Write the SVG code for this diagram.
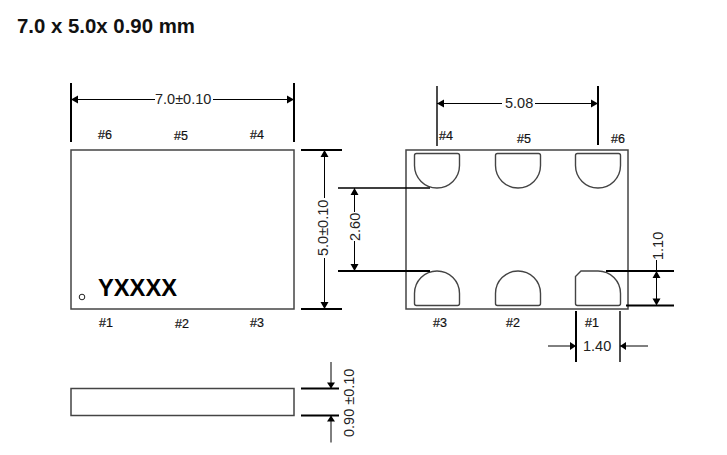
<svg xmlns="http://www.w3.org/2000/svg" width="727" height="455" viewBox="0 0 727 455">
<style>
text{font-family:"Liberation Sans",Arial,sans-serif;fill:#111}
.t{font-size:14.5px;fill:#222}
.p{font-size:12.500px;stroke:#111;stroke-width:.2}
.body{fill:#fff;stroke:#444;stroke-width:1.5}
.pad{fill:#fff;stroke:#444;stroke-width:1.4}
.l{stroke:#000;stroke-width:1;fill:none}
.m{stroke:#000;stroke-width:1.400;fill:none}
.h{stroke:#000;stroke-width:2;fill:none}
.a{fill:#000}
</style>
<defs>
<path id="pt" d="M414.500 155.500a2 2 0 0 1 2-2h41a2 2 0 0 1 2 2v10a22.500 22.500 0 0 1-45 0z"/>
<path id="pb" d="M414.500 303.500a2 2 0 0 0 2 2h41a2 2 0 0 0 2-2v-10a22.500 22.500 0 0 0-45 0z"/>
</defs>
<rect width="727" height="455" fill="#fff"/>
<text x="17" y="33" style="font-size:20.400px;font-weight:700">7.0 x 5.0x 0.90 mm</text>

<g id="top-view">
<rect class="body" x="71" y="150" width="223" height="159"/>
<circle cx="82" cy="297" r="2.800" fill="#fff" stroke="#222" stroke-width="1"/>
<text x="98" y="296" style="font-size:23.700px;font-weight:700;fill:#000">YXXXX</text>
<text class="p" x="98" y="139">#6</text><text class="p" x="174" y="140">#5</text><text class="p" x="250" y="139">#4</text>
<text class="p" x="99" y="327">#1</text><text class="p" x="175" y="328">#2</text><text class="p" x="250" y="327">#3</text>
</g>
<g id="side-view"><rect class="body" x="71" y="388.500" width="223" height="27"/></g>
<g id="bottom-view">
<rect class="body" x="406" y="150" width="222" height="159"/>
<use href="#pt" class="pad"/><use href="#pt" class="pad" x="81"/><use href="#pt" class="pad" x="161"/>
<use href="#pb" class="pad"/><use href="#pb" class="pad" x="81"/>
<path class="pad" d="M575.500 303.500a2 2 0 0 0 2 2h41a2 2 0 0 0 2-2v-10a22.500 22.500 0 0 0-22.500-22.500h-17l-5.500 5.500z"/>
<text class="p" x="439" y="140">#4</text><text class="p" x="517" y="143">#5</text><text class="p" x="611" y="143">#6</text>
<text class="p" x="433" y="327">#3</text><text class="p" x="506" y="327">#2</text><text class="p" x="585" y="327">#1</text>
</g>
<g id="connectors">
<path class="h" d="M71 83v59M294 83v59M598 86v59M576 311v51M301 150h41M301 309h41M338 271h92M606 271h68M626 305.500h48M301 388.500h38M301 415.500h38"/>
<path class="m" d="M437 86v60M620 311v51M338 188h92"/>
<path class="l" d="M71 99.500h84M213 99.500h81M437 103.500h65M535 103.500h63M324.500 150v48M324.500 258v51M354.500 188v24M354.500 241v30M656.500 271v34.500M656.500 271v-11M548 346h28M620 346h28M331 362v26M331 415.500v27"/>
<path class="a" d="M71 99.500l7-4v8zM294 99.500l-7-4v8zM437 103.500l7-4v8zM598 103.500l-7-4v8zM324.500 150l-4 7h8zM324.500 309l-4-7h8zM354.500 188l-4 7h8zM354.500 271l-4-7h8zM656.500 271l-4 7h8zM656.500 305.500l-4-7h8zM576 346l-6-4v8zM620 346l6-4v8zM331 388.500l-4-6h8zM331 415.500l-4 6h8z"/>
</g>
<g id="dimension-labels">
<text class="t" x="155" y="104">7.0±0.10</text>
<text class="t" x="505" y="108">5.08</text>
<text class="t" x="583" y="351">1.40</text>
<text class="t" transform="translate(328 256) rotate(-90)">5.0±0.10</text>
<text class="t" transform="translate(360 241) rotate(-90)">2.60</text>
<text class="t" transform="translate(663 260) rotate(-90)">1.10</text>
<text class="t" transform="translate(354 437) rotate(-90)">0.90 ±0.10</text>
</g>
</svg>
